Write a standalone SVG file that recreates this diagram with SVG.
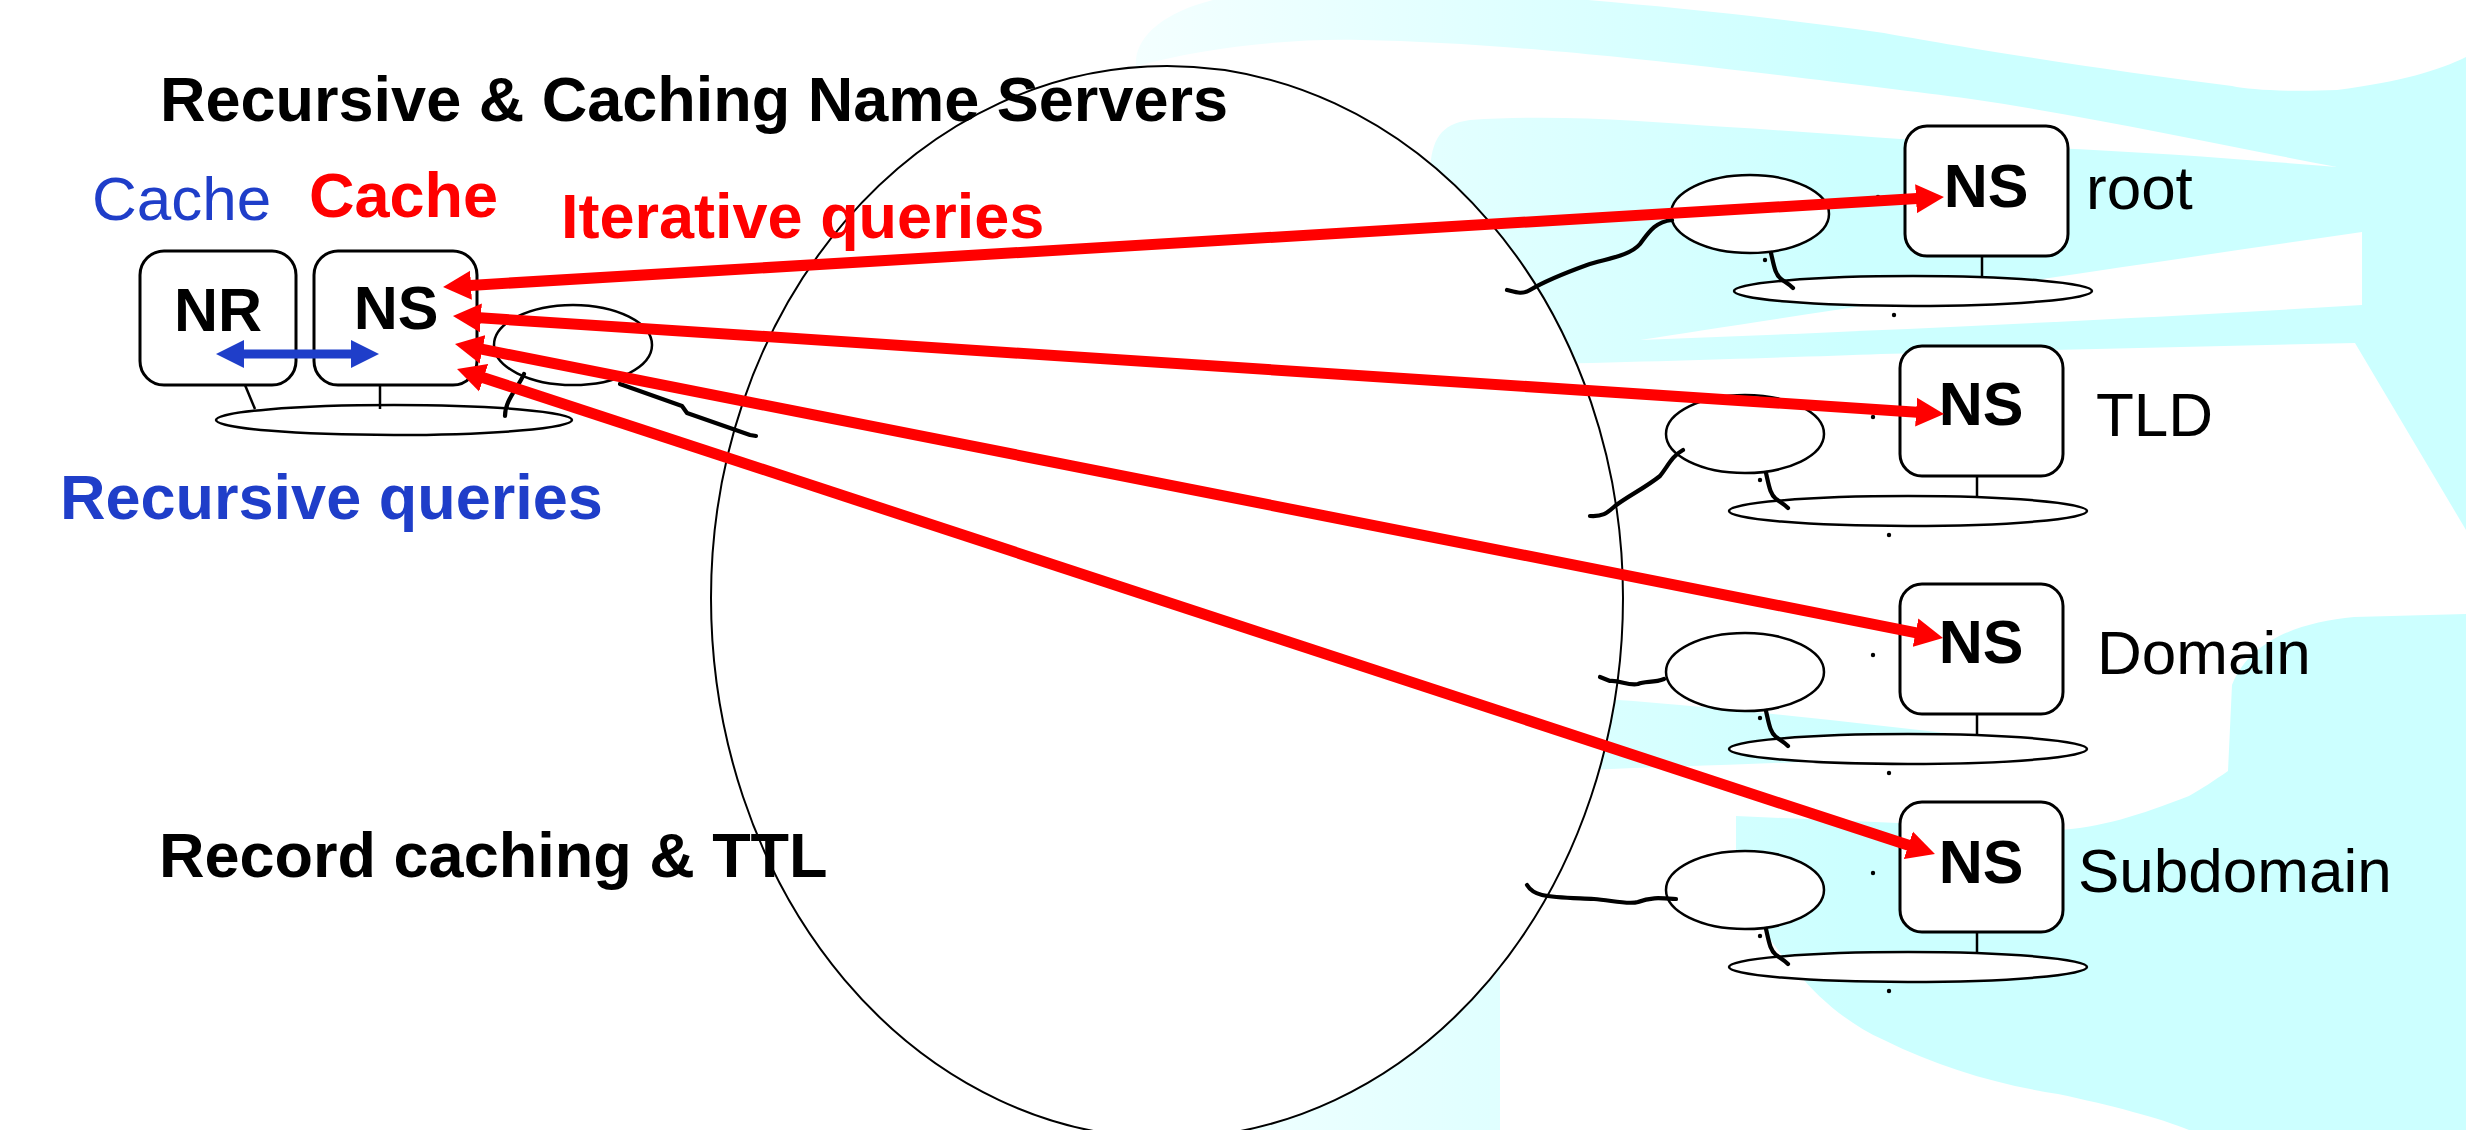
<svg xmlns="http://www.w3.org/2000/svg" width="2466" height="1130" viewBox="0 0 2466 1130">
<style>
.box{fill:#fff;stroke:#000;stroke-width:3}
.eln{fill:#fff;stroke:#000;stroke-width:2.5}
.big{fill:#fff;stroke:#000;stroke-width:2}
.wig{fill:none;stroke:#000;stroke-width:4.2;stroke-linecap:round;stroke-linejoin:round}
.stub{stroke:#000;stroke-width:2.5;fill:none}
.dot{fill:#000}
.b{font-family:"Liberation Sans",Arial,Helvetica,sans-serif;font-weight:bold;font-size:63px}
.r{font-family:"Liberation Sans",Arial,Helvetica,sans-serif;font-size:62px}
.ns{font-family:"Liberation Sans",Arial,Helvetica,sans-serif;font-weight:bold;font-size:61px;text-anchor:middle}
.red{stroke:#ff0000;stroke-width:11;fill:none;marker-start:url(#ahR);marker-end:url(#ahR)}
.blue{stroke:#1f3ec9;stroke-width:9;fill:none;marker-start:url(#ahB);marker-end:url(#ahB)}
.wh{fill:#fff}
</style>
<defs>
<linearGradient id="cy" gradientUnits="userSpaceOnUse" x1="1100" y1="0" x2="1850" y2="0">
<stop offset="0" stop-color="#f6ffff"/>
<stop offset="1" stop-color="#ccffff"/>
</linearGradient>
<marker id="ahR" markerUnits="userSpaceOnUse" markerWidth="30" markerHeight="30" viewBox="0 -15 30 30" refX="1" refY="0" orient="auto-start-reverse">
<path d="M0,-14.5 L28,0 L0,14.5 Z" fill="#ff0000"/>
</marker>
<marker id="ahB" markerUnits="userSpaceOnUse" markerWidth="30" markerHeight="30" viewBox="0 -15 30 30" refX="1" refY="0" orient="auto-start-reverse">
<path d="M0,-14 L28,0 L0,14 Z" fill="#1f3ec9"/>
</marker>
</defs>

<g id="background">
<rect x="0" y="0" width="2466" height="1130" fill="#fff"/>
<rect x="1100" y="0" width="1366" height="1130" fill="url(#cy)"/>
<path class="wh" d="M1100,0 L1213,0 C1165,12 1138,35 1136,60 L1136,120 L1100,120 Z"/>
<path class="wh" d="M1588,0 L2466,0 L2466,57 C2440,70 2400,82 2337,90 C2290,92 2250,90 2232,86 C2100,70 1950,45 1884,33 C1780,18 1680,8 1588,0 Z"/>
<path class="wh" d="M1138,66 C1200,48 1290,38 1361,40 C1460,42 1560,50 1710,67 C1820,80 1900,90 1971,99 C2100,118 2220,145 2337,167 C2250,160 2150,152 2050,148 C1950,144 1830,133 1727,127 C1640,121 1560,114 1470,120 C1440,124 1432,140 1430,170 L1300,170 L1138,90 Z"/>
<path class="wh" d="M2362,232 L2362,305 C2150,318 1900,330 1640,340 C1800,315 2100,270 2362,232 Z"/>
<path class="wh" d="M1500,365 C1650,362 1800,357 1881,354 L2355,343 L2466,530 L2466,614 L2354,617 C2300,622 2250,640 2232,685 L2228,771 C2215,780 2200,790 2189,796 C2140,815 2100,828 2058,830 L1736,816 L1736,864 C1750,910 1770,945 1797,972 C1820,1000 1850,1025 1884,1040 C1940,1068 2000,1085 2058,1094 C2110,1105 2160,1118 2189,1130 L1500,1130 Z"/>
<path fill="url(#cy)" d="M1590,698 C1700,705 1850,722 1990,738 L1990,752 C1850,762 1700,765 1590,770 Z"/>
</g>

<g id="internet">
<path class="big" d="M711,598 A456,532 0 0 1 1167,66 A456,532 0 0 1 1623,598 A456,540 0 0 1 1167,1138 A456,540 0 0 1 711,598 Z"/>
</g>

<g id="labels">
<text class="b" x="160" y="121" fill="#000">Recursive &amp; Caching Name Servers</text>
<text class="r" x="92" y="220" fill="#1f3ec9">Cache</text>
<text class="b" x="309" y="217" fill="#ff0000">Cache</text>
<text class="b" x="561" y="238" fill="#ff0000">Iterative queries</text>
<text class="b" x="60" y="519" fill="#1f3ec9">Recursive queries</text>
<text class="b" x="159" y="877" fill="#000">Record caching &amp; TTL</text>
</g>

<g id="local-site">
<ellipse class="eln" cx="394" cy="420" rx="178" ry="15"/>
<path class="stub" d="M245,385 L255,409"/>
<line class="stub" x1="380" y1="385" x2="380" y2="409"/>
<ellipse class="eln" cx="573" cy="345" rx="79" ry="40"/>
<path class="wig" d="M524,374 C518,388 505,400 505,416"/>
<path class="wig" d="M620,384 L682,406 L687,413 L750,435 L756,436"/>
</g>

<g id="nr">
<rect class="box" x="140" y="251" width="156" height="134" rx="24"/>
<text class="ns" x="218" y="331">NR</text>
</g>

<g id="ns-local">
<rect class="box" x="314" y="251" width="163" height="134" rx="24"/>
<text class="ns" x="396" y="329">NS</text>
</g>

<g id="ns-root" transform="translate(1905,126)">
<ellipse class="eln" cx="8" cy="165" rx="179" ry="15"/>
<line class="stub" x1="77" y1="130" x2="77" y2="151"/>
<rect class="box" x="0" y="0" width="163" height="130" rx="22"/>
<ellipse class="eln" cx="-155" cy="88" rx="79" ry="39"/>
<path class="wig" d="M-134,127 C-131,140 -130,148 -124,153 C-120,156 -116,158 -112,162"/>
<path class="wig" d="M-233,94 C-250,96 -256,106 -265,118 C-275,130 -300,133 -318,139 C-340,147 -360,155 -375,164 C-383,169 -390,166 -398,164"/>
<circle class="dot" cx="-27" cy="71" r="2.2"/>
<circle class="dot" cx="-140" cy="134" r="2.2"/>
<circle class="dot" cx="-11" cy="189" r="2.2"/>
<text class="ns" x="81" y="81">NS</text>
<text class="r" x="181" y="83">root</text>
</g>

<g id="ns-tld" transform="translate(1900,346)">
<ellipse class="eln" cx="8" cy="165" rx="179" ry="15"/>
<line class="stub" x1="77" y1="130" x2="77" y2="151"/>
<rect class="box" x="0" y="0" width="163" height="130" rx="22"/>
<ellipse class="eln" cx="-155" cy="88" rx="79" ry="39"/>
<path class="wig" d="M-134,127 C-131,140 -130,148 -124,153 C-120,156 -116,158 -112,162"/>
<path class="wig" d="M-217,104 C-228,110 -232,120 -240,130 C-255,142 -272,150 -285,160 C-292,166 -296,171 -310,170"/>
<circle class="dot" cx="-27" cy="71" r="2.2"/>
<circle class="dot" cx="-140" cy="134" r="2.2"/>
<circle class="dot" cx="-11" cy="189" r="2.2"/>
<text class="ns" x="81" y="79">NS</text>
<text class="r" x="196" y="90">TLD</text>
</g>

<g id="ns-domain" transform="translate(1900,584)">
<ellipse class="eln" cx="8" cy="165" rx="179" ry="15"/>
<line class="stub" x1="77" y1="130" x2="77" y2="151"/>
<rect class="box" x="0" y="0" width="163" height="130" rx="22"/>
<ellipse class="eln" cx="-155" cy="88" rx="79" ry="39"/>
<path class="wig" d="M-134,127 C-131,140 -130,148 -124,153 C-120,156 -116,158 -112,162"/>
<path class="wig" d="M-236,95 C-246,99 -255,97 -262,100 C-272,102 -280,96 -290,97 L-300,93"/>
<circle class="dot" cx="-27" cy="71" r="2.2"/>
<circle class="dot" cx="-140" cy="134" r="2.2"/>
<circle class="dot" cx="-11" cy="189" r="2.2"/>
<text class="ns" x="81" y="79">NS</text>
<text class="r" x="197" y="90">Domain</text>
</g>

<g id="ns-subdomain" transform="translate(1900,802)">
<ellipse class="eln" cx="8" cy="165" rx="179" ry="15"/>
<line class="stub" x1="77" y1="130" x2="77" y2="151"/>
<rect class="box" x="0" y="0" width="163" height="130" rx="22"/>
<ellipse class="eln" cx="-155" cy="88" rx="79" ry="39"/>
<path class="wig" d="M-134,127 C-131,140 -130,148 -124,153 C-120,156 -116,158 -112,162"/>
<path class="wig" d="M-224,97 C-240,96 -250,95 -262,100 C-272,103 -290,98 -306,97 C-325,96 -345,96 -358,93 C-366,91 -370,88 -373,83"/>
<circle class="dot" cx="-27" cy="71" r="2.2"/>
<circle class="dot" cx="-140" cy="134" r="2.2"/>
<circle class="dot" cx="-11" cy="189" r="2.2"/>
<text class="ns" x="81" y="81">NS</text>
<text class="r" x="178" y="90">Subdomain</text>
</g>

<g id="connectors">
<line class="blue" x1="243" y1="354" x2="352" y2="354"/>
<line class="red" x1="470" y1="285.4" x2="1917" y2="198.6"/>
<line class="red" x1="479.9" y1="317.8" x2="1917.1" y2="412.2"/>
<line class="red" x1="481.5" y1="349.2" x2="1916.5" y2="632.8"/>
<line class="red" x1="482.7" y1="377.4" x2="1909.3" y2="845.6"/>
</g>
</svg>
